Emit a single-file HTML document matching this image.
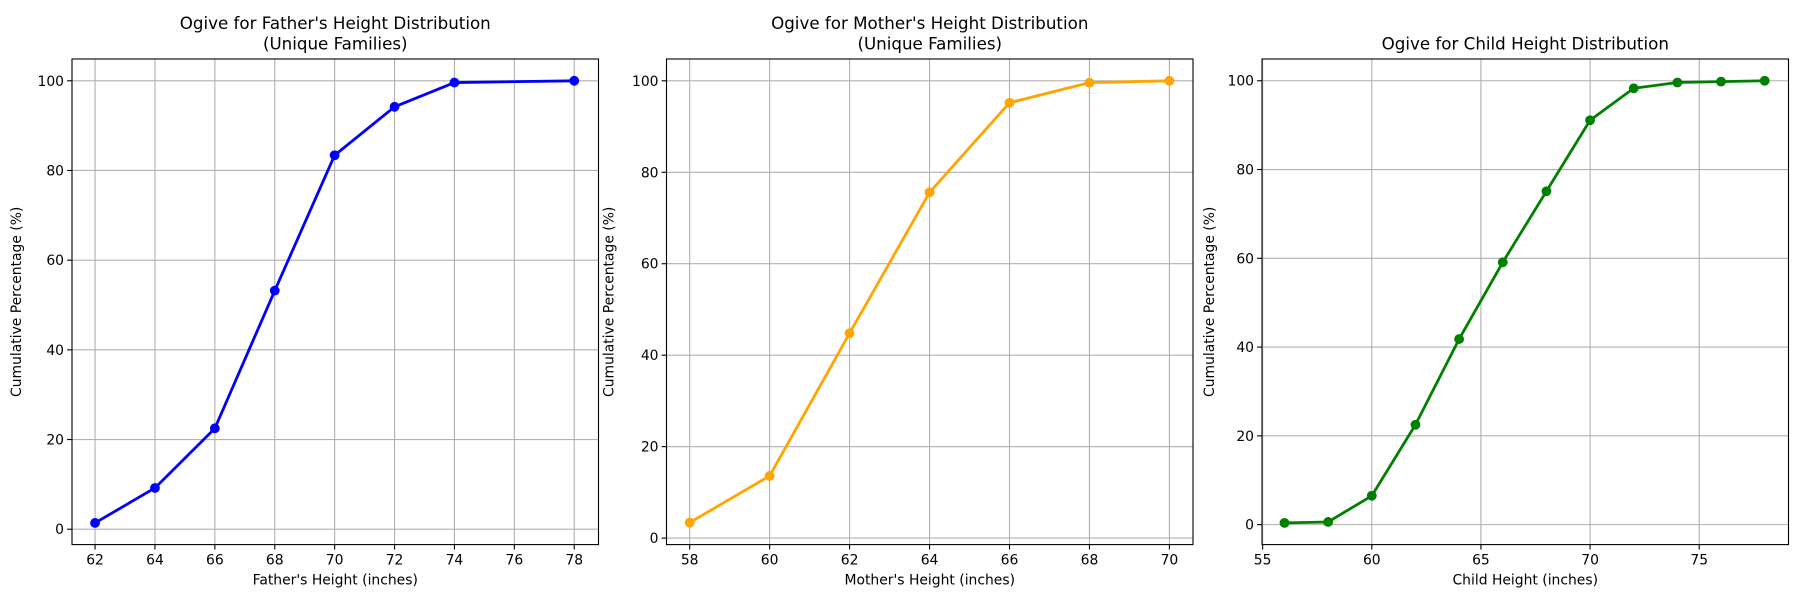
<!DOCTYPE html>
<html><head><meta charset="utf-8"><style>
html,body{margin:0;padding:0;background:#fff}
svg{display:block;font-family:"DejaVu Sans","Liberation Sans",sans-serif}
</style></head><body>
<svg id="fig" width="1800" height="600" viewBox="0 0 1800 600"></svg>
<script>
const fatherX=[62,64,66,68,70,72,74,78];
const fatherY=[1.4,9.2,22.5,53.2,83.4,94.2,99.6,100];
const motherX=[58,60,62,64,66,68,70];
const motherY=[3.4,13.6,44.8,75.6,95.2,99.6,100];
const childX=[56,58,60,62,64,66,68,70,72,74,76,78];
const childY=[0.4,0.6,6.5,22.5,41.8,59.1,75.1,91.1,98.3,99.6,99.8,100];
const fatherXTicks=[62,64,66,68,70,72,74,76,78];
const motherXTicks=[58,60,62,64,66,68,70];
const childXTicks=[55,60,65,70,75];
const yTicks=[0,20,40,60,80,100];

const NS="http://www.w3.org/2000/svg";
const fig=document.getElementById('fig');
function mk(tag,attrs,parent){const e=document.createElementNS(NS,tag);for(const k in attrs)e.setAttribute(k,attrs[k]);(parent||fig).appendChild(e);return e;}

const panels=[
 {name:'father',L:72,R:598.5,T:59,B:544.6,x0:61.23,x1:78.81,y0:-3.43,y1:104.86,xs:fatherX,ys:fatherY,xt:fatherXTicks,color:'#0000ff',
  title:["Ogive for Father's Height Distribution","(Unique Families)"],xl:"Father's Height (inches)"},
 {name:'mother',L:666.5,R:1193,T:59,B:544.6,x0:57.42,x1:70.59,y0:-1.42,y1:104.77,xs:motherX,ys:motherY,xt:motherXTicks,color:'#ffa500',
  title:["Ogive for Mother's Height Distribution","(Unique Families)"],xl:"Mother's Height (inches)"},
 {name:'child',L:1262,R:1788.5,T:59,B:544.6,x0:54.97,x1:79.09,y0:-4.5,y1:104.9,xs:childX,ys:childY,xt:childXTicks,color:'#008000',
  title:["Ogive for Child Height Distribution"],xl:"Child Height (inches)"}
];

panels.forEach(p=>{
  const g=mk('g',{});
  
  
  const sx=v=>p.L+(v-p.x0)/(p.x1-p.x0)*(p.R-p.L);
  const sy=v=>p.B-(v-p.y0)/(p.y1-p.y0)*(p.B-p.T);
  p.xt.forEach(t=>{
    const l=mk('line',{x1:sx(t),x2:sx(t),y1:p.T,y2:p.B,stroke:'#b0b0b0','stroke-width':1.1},g);
    
    
    mk('line',{x1:sx(t),x2:sx(t),y1:p.B,y2:p.B+4.9,stroke:'#000','stroke-width':1.1},g);
    const tx=mk('text',{x:sx(t),y:p.B+20,'text-anchor':'middle','font-size':13.9,fill:'#000'},g);
    tx.textContent=t;
    
    
  });
  yTicks.forEach(t=>{
    const l=mk('line',{x1:p.L,x2:p.R,y1:sy(t),y2:sy(t),stroke:'#b0b0b0','stroke-width':1.1},g);
    
    
    mk('line',{x1:p.L-4.9,x2:p.L,y1:sy(t),y2:sy(t),stroke:'#000','stroke-width':1.1},g);
    const tx=mk('text',{x:p.L-8,y:sy(t)+5,'text-anchor':'end','font-size':13.9,fill:'#000'},g);
    tx.textContent=t;
    
    
  });
  const pts=p.xs.map((x,i)=>sx(x)+','+sy(p.ys[i])).join(' ');
  const pl=mk('polyline',{points:pts,fill:'none',stroke:p.color,'stroke-width':2.8,'stroke-linejoin':'round'},g);
  
  
  p.xs.forEach((x,i)=>{
    const c=mk('circle',{cx:sx(x),cy:sy(p.ys[i]),r:4.9,fill:p.color},g);
    
    
  });
  const fr=mk('rect',{x:p.L,y:p.T,width:p.R-p.L,height:p.B-p.T,fill:'none',stroke:'#000','stroke-width':1.1},g);
  
  
  const cx=(p.L+p.R)/2;
  const lines=p.title;
  lines.forEach((s,i)=>{
    const y=lines.length===2?(29+i*20.5):49.5;
    const tt=mk('text',{x:cx,y:y,'text-anchor':'middle','font-size':16.7,fill:'#000'},g);
    tt.textContent=s;
    
    
  });
  const xl=mk('text',{x:cx,y:p.B+40,'text-anchor':'middle','font-size':13.9,fill:'#000'},g);
  xl.textContent=p.xl;
  
  
  const yx=p.L-(p.name==='father'?51:(p.name==='mother'?53:48));
  const yc=(p.T+p.B)/2;
  const yl=mk('text',{x:yx,y:yc,'text-anchor':'middle','font-size':13.9,fill:'#000',transform:'rotate(-90 '+yx+' '+yc+')'},g);
  yl.textContent='Cumulative Percentage (%)';
  
  
});
</script>
</body></html>
